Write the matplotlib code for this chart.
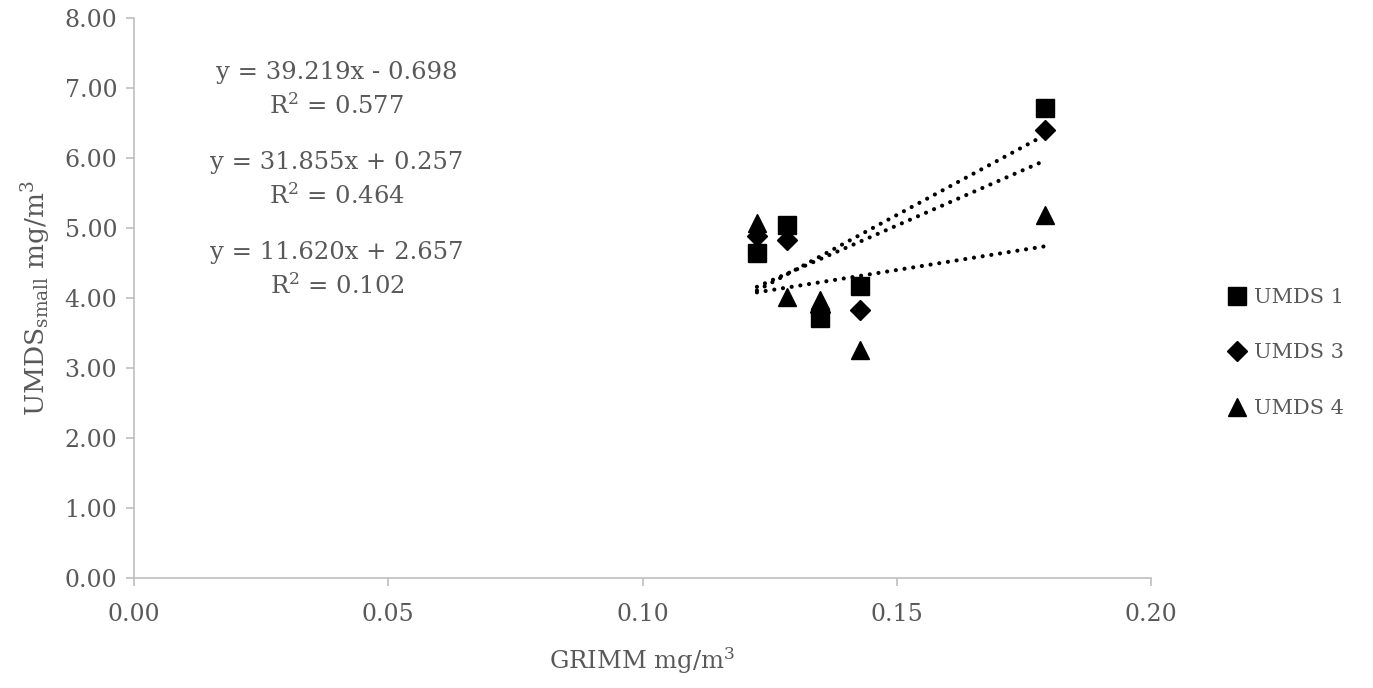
import numpy as np
import matplotlib
matplotlib.use("Agg")
import matplotlib.pyplot as plt

plt.rcParams['font.family'] = ['DejaVu Serif']
plt.rcParams['mathtext.fontset'] = 'dejavuserif'

grimm = [0.1225, 0.1284, 0.1349, 0.1428, 0.1791]
umds1 = [4.64, 5.04, 3.71, 4.17, 6.71]
umds3 = [4.89, 4.83, 3.80, 3.83, 6.40]
umds4 = [5.07, 4.01, 3.97, 3.26, 5.19]

series_names = ["UMDS 1", "UMDS 3", "UMDS 4"]
slopes = [39.219, 31.855, 11.620]
intercepts = [-0.698, 0.257, 2.657]
r2 = [0.577, 0.464, 0.102]

xticks = [0.00, 0.05, 0.10, 0.15, 0.20]
yticks = [0, 1, 2, 3, 4, 5, 6, 7, 8]

W, H = 1373, 688
fig = plt.figure(figsize=(W/100, H/100), dpi=100)
ax = fig.add_axes([134/W, 1-578/H, (1151-134)/W, (578-18)/H])

gray = '#595959'
spine = '#bfbfbf'
markers = ['s', 'D', '^']
msizes = [13, 10.5, 13.5]
data = [umds1, umds3, umds4]

handles = []
for name, ys, m, ms in zip(series_names, data, markers, msizes):
    h, = ax.plot(grimm, ys, linestyle='none', marker=m, markersize=ms,
                 color='black', label=name, zorder=3)
    handles.append(h)

xs = np.array([min(grimm), max(grimm)])
for s, b in zip(slopes, intercepts):
    ax.plot(xs, s*xs + b, color='black', linewidth=3.0,
            linestyle=(0, (0.01, 2.1)), dash_capstyle='round', zorder=2)

ax.set_xlim(0, 0.2)
ax.set_ylim(0, 8)
ax.set_xticks(xticks)
ax.set_xticklabels([f"{v:.2f}" for v in xticks])
ax.set_yticks(yticks)
ax.set_yticklabels([f"{v:.2f}" for v in yticks])
for sp in ['top', 'right']:
    ax.spines[sp].set_visible(False)
for sp in ['left', 'bottom']:
    ax.spines[sp].set_color(spine)
    ax.spines[sp].set_linewidth(1.2)
ax.tick_params(axis='both', colors=spine, labelcolor=gray, labelsize=17,
               length=6, width=1.2, direction='out')
ax.tick_params(axis='x', pad=12)
ax.tick_params(axis='y', pad=6)

ax.set_xlabel("GRIMM mg/m$^3$", color=gray, fontsize=17.5, labelpad=14)
ax.set_ylabel("UMDS$_{\\mathrm{small}}$ mg/m$^3$", color=gray, fontsize=19, labelpad=8)

ypos = [(73, 106), (162, 196), (252, 286)]
for s, b, r, (y1, y2) in zip(slopes, intercepts, r2, ypos):
    sign = '-' if b < 0 else '+'
    fig.text(337/W, 1-y1/H, f"y = {s:.3f}x {sign} {abs(b):.3f}", color=gray,
             fontsize=17.5, ha='center', va='center')
    fig.text(337/W, 1-y2/H, f"R$^2$ = {r:.3f}", color=gray,
             fontsize=17.5, ha='center', va='center')

leg = fig.legend(handles=handles, loc='center left', bbox_to_anchor=(1222/W, 1-353/H),
                 frameon=False, fontsize=15, handlelength=0.6, handletextpad=0.55,
                 labelspacing=1.75, markerscale=1.0, borderaxespad=0)
for t in leg.get_texts():
    t.set_color(gray)

fig.savefig("out.png", dpi=100)
